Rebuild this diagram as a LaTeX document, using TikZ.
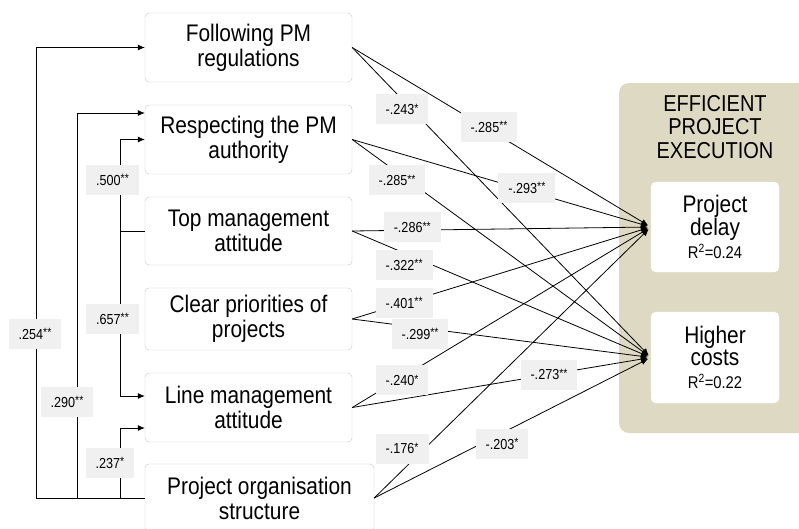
\documentclass[tikz,border=0pt]{standalone}
\usepackage{fontspec}
\setmainfont{Liberation Sans}[FakeStretch=0.87]
\usetikzlibrary{arrows.meta,positioning}
\definecolor{panelcol}{HTML}{DDD9C3}
\definecolor{labcol}{HTML}{F0F0F0}
\definecolor{boxline}{HTML}{C8C8C8}
\newcommand{\stars}[1]{\raisebox{2.5pt}{\fontsize{12}{12}\selectfont#1}}
\tikzset{
	factor/.style={draw=boxline,fill=white,rounded corners=4pt,minimum width=207pt,align=center,inner sep=0pt,font=\fontsize{24}{25}\selectfont},
	outcome/.style={draw=white,fill=white,rounded corners=5pt,minimum width=128pt,align=center,inner sep=0pt,font=\fontsize{24}{22}\selectfont},
	coef/.style={fill=labcol,inner xsep=10pt,minimum height=30pt,font=\fontsize{14.5}{15}\selectfont},
	link/.style={-{Latex[length=7pt,width=6pt]},line width=0.8pt}
}
\begin{document}
\begin{tikzpicture}[x=1pt,y=-1pt]
		\useasboundingbox (0,0) rectangle (799,528);
		% outcome panel
		\node[fill=panelcol,rounded corners=10pt,minimum width=193pt,minimum height=350pt] (panel) at (715.5,258) {};
		\node[align=center,font=\fontsize{23}{23.3}\selectfont] (head) at (715,127) {EFFICIENT\\PROJECT\\EXECUTION};
		\node[outcome,minimum height=90pt] (delay) at (715,227) {Project\\delay\\[1pt]{\fontsize{17}{17}\selectfont R\textsuperscript{2}=0.24}};
		\node[outcome,minimum height=91pt] (costs) at (715,357.5) {Higher\\costs\\[1pt]{\fontsize{17}{17}\selectfont R\textsuperscript{2}=0.22}};
		% factors
		\node[factor,minimum height=69pt] (follow) at (248.5,47.5) {Following PM\\regulations};
		\node[factor,minimum height=69pt] (respect) at (248.5,139.5) {Respecting the PM\\authority};
		\node[factor,minimum height=68pt] (topm) at (248.5,231) {Top management\\attitude};
		\node[factor,minimum height=62pt] (prio) at (248.5,319) {Clear priorities of\\projects};
		\node[factor,minimum height=69pt] (linem) at (248.5,407.5) {Line management\\attitude};
		\node[factor,minimum height=68pt,minimum width=229pt] (porg) at (259.5,498) {Project organisation\\structure};
		% paths to the outcomes
		\foreach \s in {follow,respect,topm,prio,linem,porg}{
			\foreach \t in {delay,costs}{
				\draw[link,shorten >=3pt] (\s.east) -- (\t.west);
			}
		}
		\foreach \s/\t/\p/\dy/\v in {follow/delay/.458/3/{-.285\stars{**}}, follow/costs/.167/-10/{-.243\stars{*}},
			respect/delay/.585/3/{-.293\stars{**}}, respect/costs/.150/-8/{-.285\stars{**}},
			topm/delay/.201/3/{-.286\stars{**}}, topm/costs/.174/-12/{-.322\stars{**}},
			prio/delay/.174/0/{-.401\stars{**}}, prio/costs/.227/-6/{-.299\stars{**}},
			linem/delay/.167/-3/{-.240\stars{*}}, linem/costs/.659/0/{-.273\stars{**}},
			porg/delay/.101/22/{-.176\stars{*}}, porg/costs/.462/-11/{-.203\stars{*}}}{
			\path (\s.east) -- (\t.west) node[coef,pos=\p,yshift=\dy pt] (c-\s-\t) {\v};
		}
		% paths between the factors
		\draw[link] (porg.west) -- ++(-108,0) |- (follow.west);
		\draw[link] (porg.west) -- ++(-67,0) |- ([yshift=26.5pt]respect.west);
		\draw[link] (topm.west) -- ++(-24,0) |- (respect.west);
		\draw[link] (topm.west) -- ++(-24,0) |- ([yshift=11.5pt]linem.west);
		\draw[link] (porg.west) -- ++(-24,0) |- ([yshift=-20.5pt]linem.west);
		\node[coef] (c254) at (35,334) {.254\stars{**}};
		\node[coef] (c290) at (67,402) {.290\stars{**}};
		\node[coef] (c500) at (112.5,180) {.500\stars{**}};
		\node[coef] (c657) at (112.5,319) {.657\stars{**}};
		\node[coef] (c237) at (110,463) {.237\stars{*}};
	\end{tikzpicture}
\end{document}
